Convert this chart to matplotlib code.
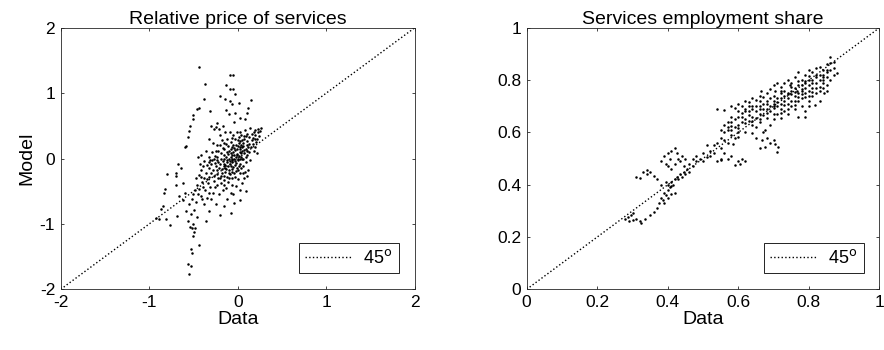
import matplotlib
matplotlib.use("Agg")
import matplotlib.pyplot as plt

plt.rcParams['font.family'] = ['Liberation Sans', 'DejaVu Sans']

# Left panel: relative price of services (data, model)
price_points = [
    (-0.44, 1.40), (-0.09, 1.28), (-0.05, 1.28), (-0.37, 1.14), (-0.13, 1.13), (-0.09, 1.07),
    (-0.05, 1.06), (-0.03, 0.99), (-0.38, 0.91), (-0.20, 0.96), (-0.14, 0.91), (-0.09, 0.88),
    (-0.07, 0.83), (0.01, 0.85), (0.15, 0.90), (0.12, 0.78), (-0.44, 0.78), (-0.46, 0.75),
    (-0.31, 0.72), (-0.50, 0.67), (-0.51, 0.61), (-0.54, 0.49), (-0.55, 0.42), (-0.56, 0.33),
    (-0.58, 0.19), (-0.60, 0.17), (-0.03, 0.70), (0.02, 0.62), (0.10, 0.69), (0.08, 0.60),
    (-0.13, 0.74), (-0.10, 0.68), (-0.04, 0.56), (-0.25, 0.48), (-0.21, 0.45), (-0.27, 0.45),
    (-0.30, 0.50), (-0.24, 0.55), (-0.17, 0.50), (-0.14, 0.40), (-0.20, 0.36), (-0.33, 0.30),
    (-0.28, 0.24), (-0.36, 0.12), (-0.42, 0.05), (-0.45, 0.02),
    (0.26, 0.46), (0.23, 0.40), (0.20, 0.43), (0.24, 0.34), (0.19, 0.30), (0.16, 0.38),
    (0.13, 0.33), (0.21, 0.25), (0.17, 0.22), (0.10, 0.27), (0.12, 0.18), (0.07, 0.35),
    (0.05, 0.28), (0.14, 0.47), (0.08, 0.44), (0.03, 0.40), (0.18, 0.12), (0.22, 0.08),
    (0.11, 0.05), (0.14, -0.02), (0.09, -0.05), (0.12, -0.18), (0.06, -0.12), (0.10, -0.26),
    (-0.02, 0.02), (0.00, -0.03), (-0.04, 0.06), (0.02, 0.10), (-0.06, -0.06), (-0.08, 0.03),
    (0.04, 0.03), (-0.01, 0.15), (0.05, 0.17), (-0.05, 0.20), (0.01, 0.24), (-0.10, 0.12),
    (-0.12, -0.02), (-0.15, 0.06), (-0.11, -0.12), (-0.07, -0.16), (-0.03, -0.10), (0.03, -0.08),
    (0.07, 0.08), (0.09, 0.14), (-0.16, -0.08), (-0.19, 0.00), (-0.22, -0.05), (-0.18, -0.16),
    (-0.14, -0.20), (-0.09, -0.24), (-0.04, -0.22), (0.00, -0.18), (-0.25, -0.12), (-0.28, -0.18),
    (-0.24, -0.24), (-0.20, -0.30), (-0.30, -0.08), (-0.33, -0.15), (-0.36, -0.22), (-0.32, -0.28),
    (-0.38, -0.30), (-0.41, -0.18), (-0.44, -0.25), (-0.40, -0.36), (-0.46, -0.40), (-0.34, -0.38),
    (-0.27, -0.34), (-0.16, -0.33), (-0.11, -0.36), (-0.06, -0.30), (-0.02, -0.42), (-0.13, -0.45),
    (-0.08, -0.52), (-0.17, -0.48), (-0.21, -0.55), (-0.26, -0.44), (-0.03, 0.30), (-0.08, 0.26),
    (-0.13, 0.22), (-0.17, 0.16), (-0.22, 0.12), (-0.26, 0.04), (-0.29, 0.10), (-0.33, 0.02),
    (-0.38, -0.04), (0.06, -0.01), (0.04, 0.20), (-0.01, 0.07), (-0.05, 0.10), (-0.03, -0.04),
    (0.01, 0.04), (-0.07, 0.00), (-0.09, -0.08), (-0.13, 0.02), (-0.11, 0.07),
    (-0.01, -0.14), (0.03, -0.22), (0.07, -0.30), (0.05, -0.38), (-0.06, -0.40), (-0.10, -0.18),
    (-0.14, -0.10), (-0.18, -0.22), (-0.21, -0.14), (-0.23, 0.02), (-0.19, 0.08), (-0.15, 0.14),
    (-0.07, 0.18), (-0.03, 0.13), (0.03, 0.14), (0.06, 0.24), (0.10, 0.20), (0.13, 0.10),
    (0.16, 0.28), (0.08, -0.20), (-0.12, 0.30), (-0.18, 0.28), (-0.24, 0.20), (-0.31, -0.02),
    (-0.35, -0.10), (-0.39, -0.12), (-0.43, -0.08), (-0.47, -0.30), (-0.44, -0.46), (-0.37, -0.48),
    (-0.31, -0.44), (-0.23, -0.40), (-0.19, -0.38), (-0.15, -0.26), (-0.10, -0.30), (0.00, -0.32),
    (0.02, -0.48), (-0.05, -0.55), (0.05, 0.00), (0.00, 0.19), (-0.05, 0.36), (0.01, 0.33),
    (0.07, 0.30), (-0.09, 0.40), (0.11, 0.38), (0.15, 0.18), (0.19, 0.18), (0.25, 0.42),
    (0.22, 0.30), (-0.27, -0.26), (-0.29, -0.02), (-0.06, 0.05), (-0.02, -0.07), (0.04, 0.08),
    (-0.08, -0.11), (-0.12, -0.06), (-0.16, 0.00), (-0.04, 0.00), (0.00, 0.00), (-0.10, 0.00),
    (-0.01, 0.05), (0.02, -0.01), (0.05, 0.11), (-0.04, 0.16), (-0.08, 0.09), (-0.02, 0.21),
    (0.03, 0.27), (0.06, 0.19), (0.09, 0.03), (0.11, 0.12), (-0.06, -0.02), (-0.09, -0.04),
    (-0.12, 0.10), (-0.14, -0.14), (-0.17, -0.04), (-0.20, -0.09), (-0.23, -0.18), (-0.26, -0.07),
    (-0.19, -0.26), (-0.12, -0.28), (-0.07, -0.20), (-0.03, -0.28), (0.01, -0.11), (0.04, -0.15),
    (-0.05, -0.13), (-0.10, -0.22), (-0.15, -0.40), (-0.22, -0.30), (-0.30, -0.22), (-0.35, -0.32),
    (-0.42, -0.28), (-0.39, -0.44), (-0.33, -0.52), (-0.45, -0.55), (-0.40, -0.62), (-0.35, -0.60),
    (0.13, 0.22), (0.17, 0.32), (0.20, 0.36), (0.23, 0.45), (0.18, 0.40), (0.09, 0.34),
    (0.04, 0.36), (-0.01, 0.40), (0.00, 0.29), (-0.07, 0.31), (-0.11, 0.19), (-0.16, 0.24),
    (-0.20, 0.20), (-0.25, 0.12), (-0.02, -0.19), (0.06, -0.22), (-0.13, -0.16), (-0.16, -0.12),
    (-0.08, 0.14), (0.02, 0.17), (0.07, 0.13), (-0.24, -0.02), (-0.27, 0.00), (-0.32, -0.06),
    (-0.48, -0.48), (-0.50, -0.55), (-0.52, -0.62), (-0.47, -0.66), (-0.55, -0.70), (-0.49, -0.78),
    (-0.53, -0.85), (-0.46, -0.90), (-0.56, -0.95), (-0.50, -1.00), (-0.54, -1.04), (-0.52, -1.06),
    (-0.49, -1.13), (-0.51, -1.19), (-0.48, -1.07), (-0.58, -0.80), (-0.62, -0.63), (-0.60, -0.52),
    (-0.66, -0.58), (-0.42, -0.58), (-0.38, -0.70), (-0.36, -0.96), (-0.33, -0.80), (-0.30, -0.62),
    (-0.25, -0.70), (-0.20, -0.87), (-0.08, -0.84), (-0.04, -0.68), (0.02, -0.63), (0.09, -0.50),
    (-0.12, -0.62), (-0.16, -0.72), (-0.28, -0.52),
    (-0.53, -1.39), (-0.52, -1.44), (-0.44, -1.33), (-0.56, -1.62), (-0.53, -1.65), (-0.55, -1.76),
    (-0.68, -0.08), (-0.70, -0.22), (-0.70, -0.27), (-0.80, -0.24), (-0.70, -0.41), (-0.82, -0.46),
    (-0.83, -0.53), (-0.85, -0.72), (-0.87, -0.77), (-0.92, -0.91), (-0.89, -0.92), (-0.81, -0.93),
    (-0.77, -1.01), (-0.69, -0.88), (-0.62, -0.38), (-0.64, -0.15),
]

# Right panel: services employment share (data, model)
share_points = [
    (0.286, 0.276), (0.295, 0.283), (0.30, 0.265), (0.31, 0.27), (0.32, 0.262), (0.335, 0.27),
    (0.35, 0.285), (0.36, 0.295), (0.30, 0.29), (0.28, 0.27), (0.29, 0.26), (0.325, 0.255),
    (0.37, 0.31), (0.375, 0.33), (0.38, 0.35), (0.385, 0.34), (0.39, 0.37), (0.395, 0.36),
    (0.40, 0.38), (0.40, 0.40), (0.405, 0.39), (0.41, 0.41), (0.415, 0.40), (0.42, 0.42),
    (0.425, 0.43), (0.43, 0.42), (0.435, 0.44), (0.44, 0.43), (0.445, 0.45), (0.45, 0.44),
    (0.455, 0.46), (0.46, 0.45), (0.39, 0.33), (0.40, 0.35), (0.41, 0.365), (0.42, 0.37),
    (0.38, 0.40), (0.395, 0.41), (0.41, 0.395),
    (0.31, 0.43), (0.32, 0.425), (0.33, 0.45), (0.34, 0.455), (0.35, 0.45), (0.36, 0.435),
    (0.37, 0.42), (0.34, 0.44),
    (0.38, 0.49), (0.39, 0.51), (0.40, 0.52), (0.405, 0.50), (0.41, 0.53), (0.42, 0.54),
    (0.425, 0.52), (0.43, 0.50), (0.435, 0.49), (0.44, 0.51), (0.445, 0.47), (0.45, 0.50),
    (0.42, 0.48), (0.41, 0.46), (0.40, 0.47), (0.395, 0.48), (0.46, 0.48), (0.47, 0.50),
    (0.48, 0.51), (0.49, 0.50), (0.50, 0.52), (0.51, 0.505), (0.52, 0.51),
    (0.47, 0.47), (0.48, 0.49), (0.50, 0.49), (0.52, 0.53), (0.53, 0.55), (0.54, 0.56),
    (0.55, 0.54), (0.56, 0.57), (0.57, 0.56), (0.55, 0.58), (0.53, 0.52), (0.51, 0.55),
    (0.56, 0.52), (0.55, 0.50), (0.58, 0.59), (0.59, 0.58), (0.60, 0.60), (0.57, 0.61),
    (0.585, 0.555),
    (0.54, 0.49), (0.55, 0.495), (0.57, 0.50), (0.58, 0.51), (0.60, 0.49), (0.605, 0.48),
    (0.59, 0.475), (0.62, 0.49), (0.61, 0.50),
    (0.54, 0.69), (0.56, 0.685), (0.58, 0.70), (0.59, 0.695), (0.60, 0.71), (0.61, 0.70),
    (0.62, 0.72), (0.63, 0.715), (0.64, 0.73), (0.65, 0.725), (0.66, 0.74), (0.665, 0.76),
    (0.67, 0.735), (0.68, 0.75), (0.69, 0.765), (0.70, 0.78), (0.705, 0.76), (0.71, 0.79),
    (0.72, 0.775), (0.73, 0.79), (0.74, 0.80), (0.745, 0.78), (0.75, 0.79), (0.76, 0.81),
    (0.77, 0.83), (0.78, 0.80), (0.79, 0.82), (0.80, 0.84), (0.81, 0.83), (0.82, 0.845),
    (0.83, 0.85), (0.84, 0.84), (0.85, 0.86), (0.86, 0.865), (0.86, 0.887), (0.87, 0.87),
    (0.88, 0.826), (0.87, 0.845), (0.85, 0.84), (0.84, 0.82),
    (0.60, 0.66), (0.61, 0.675), (0.62, 0.68), (0.63, 0.665), (0.64, 0.69), (0.65, 0.68),
    (0.66, 0.70), (0.67, 0.69), (0.68, 0.71), (0.69, 0.70), (0.70, 0.72), (0.71, 0.73),
    (0.72, 0.71), (0.73, 0.74), (0.74, 0.73), (0.75, 0.745), (0.76, 0.74), (0.765, 0.76),
    (0.77, 0.75), (0.78, 0.765), (0.79, 0.77), (0.80, 0.78), (0.81, 0.77), (0.82, 0.79),
    (0.83, 0.80), (0.84, 0.79), (0.85, 0.81), (0.76, 0.72), (0.75, 0.70), (0.74, 0.71),
    (0.73, 0.705), (0.72, 0.69), (0.71, 0.70), (0.70, 0.695), (0.69, 0.68), (0.68, 0.675),
    (0.67, 0.665), (0.66, 0.67), (0.65, 0.655), (0.64, 0.66), (0.63, 0.645), (0.62, 0.65),
    (0.61, 0.64), (0.60, 0.63), (0.59, 0.62), (0.58, 0.64), (0.57, 0.62), (0.56, 0.60),
    (0.55, 0.61), (0.77, 0.735), (0.78, 0.745), (0.79, 0.75), (0.80, 0.76), (0.81, 0.755),
    (0.82, 0.77), (0.83, 0.775), (0.84, 0.77), (0.80, 0.74), (0.78, 0.73),
    (0.62, 0.69), (0.64, 0.70), (0.66, 0.72), (0.67, 0.71), (0.69, 0.73), (0.70, 0.74),
    (0.72, 0.75), (0.73, 0.76), (0.74, 0.75), (0.75, 0.76), (0.76, 0.77), (0.77, 0.78),
    (0.78, 0.78), (0.79, 0.79), (0.80, 0.80), (0.81, 0.80), (0.82, 0.81), (0.83, 0.82),
    (0.84, 0.81), (0.85, 0.83), (0.86, 0.84), (0.82, 0.82), (0.80, 0.815), (0.77, 0.795),
    (0.75, 0.775), (0.72, 0.76), (0.68, 0.72), (0.65, 0.70), (0.63, 0.68), (0.61, 0.66),
    (0.59, 0.65), (0.57, 0.64), (0.56, 0.63), (0.58, 0.66), (0.60, 0.68), (0.63, 0.70),
    (0.66, 0.69), (0.68, 0.69), (0.70, 0.70), (0.71, 0.715), (0.73, 0.72), (0.75, 0.72),
    (0.77, 0.72), (0.79, 0.735), (0.81, 0.74), (0.83, 0.76), (0.85, 0.78), (0.86, 0.80),
    (0.87, 0.82), (0.84, 0.80), (0.82, 0.75), (0.80, 0.72), (0.78, 0.70), (0.76, 0.705),
    (0.74, 0.69), (0.72, 0.675), (0.70, 0.67), (0.68, 0.655), (0.66, 0.65), (0.64, 0.645),
    (0.62, 0.635), (0.60, 0.615), (0.58, 0.625), (0.74, 0.745), (0.76, 0.755), (0.78, 0.76),
    (0.70, 0.71), (0.72, 0.73), (0.79, 0.795), (0.81, 0.79),
    (0.58, 0.61), (0.60, 0.583), (0.62, 0.60), (0.638, 0.596), (0.65, 0.62), (0.675, 0.61),
    (0.69, 0.63), (0.70, 0.65), (0.72, 0.655), (0.74, 0.67), (0.77, 0.66), (0.79, 0.68),
    (0.79, 0.66), (0.80, 0.70), (0.816, 0.705), (0.83, 0.72), (0.844, 0.75), (0.85, 0.76),
    (0.76, 0.69), (0.73, 0.68), (0.71, 0.67), (0.66, 0.64), (0.64, 0.63),
    (0.666, 0.57), (0.675, 0.545), (0.66, 0.54), (0.70, 0.57), (0.71, 0.525), (0.713, 0.545),
    (0.68, 0.58), (0.69, 0.56), (0.65, 0.58), (0.67, 0.60), (0.705, 0.555),
]

price_data = [p[0] for p in price_points]
price_model = [p[1] for p in price_points]
share_data = [p[0] for p in share_points]
share_model = [p[1] for p in share_points]

price_ticks = [-2, -1, 0, 1, 2]
share_ticks = [0, 0.2, 0.4, 0.6, 0.8, 1]

fig = plt.figure(figsize=(8.84, 3.5), dpi=100)
ax1 = fig.add_axes([0.0687, 0.1734, 0.4005, 0.7474])
ax2 = fig.add_axes([0.5958, 0.1734, 0.3991, 0.7474])

panels = [
    (ax1, price_data, price_model, price_ticks, "Relative price of services"),
    (ax2, share_data, share_model, share_ticks, "Services employment share"),
]

for ax, xd, yd, ticks, title in panels:
    lo, hi = ticks[0], ticks[-1]
    ax.plot([lo, hi], [lo, hi], linestyle=':', color='k', linewidth=1.0, label='45$^{\\mathrm{o}}$')
    ax.plot(xd, yd, linestyle='none', marker='.', markersize=1.6, color='k')
    ax.set_xlim(lo, hi)
    ax.set_ylim(lo, hi)
    ax.set_xticks(ticks)
    ax.set_yticks(ticks)
    ax.set_xticklabels([f"{t:g}" for t in ticks])
    ax.set_yticklabels([f"{t:g}" for t in ticks])
    ax.tick_params(direction='in', top=True, right=True, length=2.5, width=0.6,
                   labelsize=12.5, colors='0.15', labelcolor='k', pad=4)
    for s in ax.spines.values():
        s.set_linewidth(0.6)
        s.set_color('0.15')
    ax.set_title(title, fontsize=14, pad=3)
    ax.set_xlabel("Data", fontsize=14, labelpad=1)
    leg = ax.legend(loc='lower right', bbox_to_anchor=(1 - 16 / 355, 16 / 261.6),
                    borderaxespad=0, fontsize=13, handlelength=2.6, handletextpad=0.6,
                    fancybox=False, framealpha=1, borderpad=0.35)
    leg.get_frame().set_edgecolor('k')
    leg.get_frame().set_linewidth(0.6)

ax1.set_ylabel("Model", fontsize=14, labelpad=3)

fig.savefig("out.png", dpi=100)
